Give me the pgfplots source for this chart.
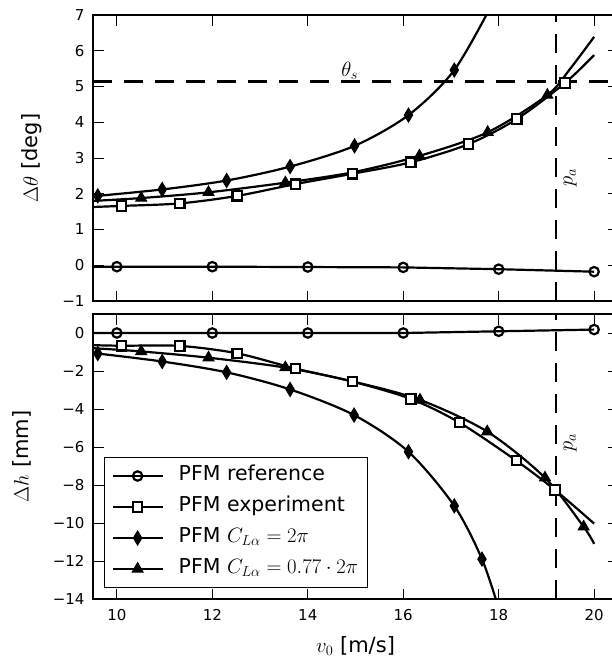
\documentclass[border=0pt]{standalone}
\usepackage{fontspec}
\setmainfont{DejaVu Sans}
\usepackage{pgfplots}
\pgfplotsset{compat=1.18}

\pgfplotsset{
  mybase/.style={
    scale only axis, width=525pt,
    xmin=9.5, xmax=20.5,
    xtick={10,12,14,16,18,20},
    tick align=inside,
    major tick length=10.5pt,
    every tick/.style={black, line width=1pt},
    axis line style={line width=1.2pt},
    tick label style={font=\fontsize{15}{18}\selectfont},
    yticklabel style={xshift=-5pt},
    xticklabel style={yshift=-7pt},
    label style={font=\fontsize{21}{25}\selectfont},
    clip=true,
  },
  ref/.style={black, line width=2.2pt, mark=o, mark size=4.7pt, mark options={fill=white, line width=2.2pt}},
  exp/.style={black, line width=2.2pt, smooth, mark=square*, mark size=4.7pt, mark options={fill=white, line width=2.2pt}},
  dia/.style={black, line width=2.2pt, smooth, mark=diamond*, mark size=7pt, mark options={fill=black, xscale=0.8, line width=1pt}},
  tri/.style={black, line width=2.2pt, smooth, mark=triangle*, mark size=6.3pt, mark options={fill=black, line width=1pt}},
  dashline/.style={black, line width=2.8pt, dash pattern=on 19pt off 12pt, forget plot},
}

\begin{document}
\begin{tikzpicture}

% ---------------- top axis ----------------
\begin{axis}[mybase,
  at={(93pt,-15pt)}, anchor=north west, height=286pt,
  ymin=-1, ymax=7,
  ytick={-1,0,1,2,3,4,5,6,7},
  yticklabels={−1,0,1,2,3,4,5,6,7},
  xticklabels={},
  ylabel={$\Delta\theta$ [deg]},
  ylabel style={at={(axis description cs:-0.116,0.5)}, anchor=center},
]
\addplot[ref, mark indices={2,3,4,5,6,7}] coordinates {
 (9.5,-0.04) (10,-0.04) (12,-0.04) (14,-0.05) (16,-0.06) (18,-0.11) (20,-0.18)};
\addplot[exp, mark indices={2,3,4,5,6,7,8,9,10}] coordinates {
 (9.5,1.63) (10.1,1.66) (11.32,1.73) (12.52,1.94) (13.74,2.27) (14.94,2.56)
 (16.16,2.88) (17.37,3.39) (18.38,4.09) (19.39,5.10) (20.0,5.88)};
\addplot[dia, mark indices={2,3,4,5,6,7,8}] coordinates {
 (9.5,1.91) (9.6,1.94) (10.95,2.12) (12.3,2.37) (13.63,2.76) (14.98,3.34)
 (16.11,4.2) (17.07,5.46) (17.9,7.4)};
\addplot[tri, mark indices={2,3,4,6,7,8}] coordinates {
 (9.5,1.80) (10.51,1.88) (11.92,2.04) (13.53,2.31) (14.94,2.60) (16.34,3.06)
 (17.77,3.72) (19.02,4.76) (19.5,5.5) (20.0,6.39)};
\addplot[dashline] coordinates {(9.5,5.13) (20.5,5.13)};
\addplot[dashline] coordinates {(19.2,-1) (19.2,7)};
\node at (axis cs:14.88,5.45) {\fontsize{20}{24}\selectfont $\theta_s$};
\node[rotate=90] at (axis cs:19.5,2.45) {\fontsize{20}{24}\selectfont $p_a$};
\end{axis}

% ---------------- bottom axis ----------------
\begin{axis}[mybase,
  at={(93pt,-314pt)}, anchor=north west, height=285pt,
  ymin=-14, ymax=1,
  ytick={-14,-12,-10,-8,-6,-4,-2,0},
  yticklabels={−14,−12,−10,−8,−6,−4,−2,0},
  xticklabels={10,12,14,16,18,20},
  ylabel={$\Delta h$ [mm]},
  ylabel style={at={(axis description cs:-0.135,0.5)}, anchor=center},
  xlabel={$v_0$ [m/s]},
  xlabel style={at={(axis description cs:0.5,-0.165)}, anchor=center},
  legend cell align=left,
  legend style={at={(axis description cs:0.021,0.0386)}, anchor=south west,
    draw=black, line width=1pt, fill=white,
    font=\fontsize{20.5}{24}\selectfont,
    row sep=8pt, column sep=13pt, inner sep=7pt,
    nodes={inner sep=2pt, text height=14pt, text depth=5pt}},
  legend image code/.code={%
    \draw[mark=none] (0pt,0pt) -- (50pt,0pt);
    \draw[only marks] plot coordinates {(25pt,0pt) (25pt,0pt)};},
]
\addplot[ref, mark indices={2,3,4,5,6,7}] coordinates {
 (9.5,0) (10,0) (12,0) (14,0) (16,0) (18,0.09) (20,0.18)};
\addlegendentry{PFM reference}
\addplot[exp, mark indices={2,3,4,5,6,7,8,9,10}] coordinates {
 (9.5,-0.64) (10.1,-0.67) (11.32,-0.68) (12.52,-1.07) (13.74,-1.87) (14.94,-2.56)
 (16.16,-3.47) (17.18,-4.72) (18.37,-6.72) (19.18,-8.26) (20.0,-10.03)};
\addlegendentry{PFM experiment}
\addplot[dia, mark indices={2,3,4,5,6,7,8,9}] coordinates {
 (9.5,-1.05) (9.6,-1.08) (10.95,-1.5) (12.3,-2.07) (13.63,-2.97) (14.97,-4.32)
 (16.11,-6.25) (17.07,-9.1) (17.65,-11.9) (18.0,-14.5)};
\addlegendentry{PFM $C_{L\alpha}=2\pi$}
\addplot[tri, mark indices={2,3,4,6,7,8,9}] coordinates {
 (9.5,-0.80) (10.51,-0.97) (11.92,-1.3) (13.53,-1.82) (14.94,-2.55) (16.35,-3.52)
 (17.76,-5.19) (18.97,-7.62) (19.78,-10.2) (20.0,-11.1)};
\addlegendentry{PFM $C_{L\alpha}=0.77\cdot 2\pi$}
\addplot[dashline] coordinates {(19.2,-14) (19.2,1)};
\node[rotate=90] at (axis cs:19.5,-5.76) {\fontsize{20}{24}\selectfont $p_a$};
\end{axis}

\pgfresetboundingbox
\useasboundingbox (0pt,0pt) rectangle (612pt,-659pt);
\end{tikzpicture}
\end{document}
